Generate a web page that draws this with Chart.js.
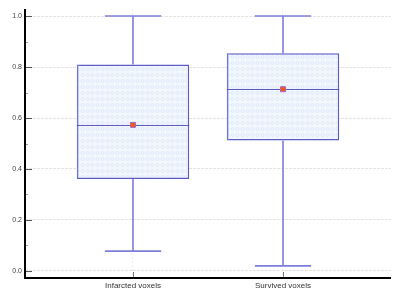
<!DOCTYPE html>
<html>
<head>
<meta charset="utf-8">
<script src="https://cdn.jsdelivr.net/npm/chart.js@4"></script>
<style>
  body { margin: 0; background: #fff; }
  canvas { display: block; }
</style>
</head>
<body>
<canvas id="box-chart" width="400" height="300"></canvas>
<script>
// box plot stats per group
const labels = ['Infarcted voxels', 'Survived voxels'];
const minVals = [0.078, 0.02];
const q1Vals = [0.361, 0.512];
const medianVals = [0.571, 0.712];
const q3Vals = [0.81, 0.854];
const maxVals = [1.0, 1.0];
const meanVals = [0.573, 0.713];
const yTicks = [0, 0.1, 0.2, 0.3, 0.4, 0.5, 0.6, 0.7, 0.8, 0.9, 1.0];

const FONT = "'Liberation Sans', Arial, sans-serif";

// pale blue dotted fill like the original
function makePattern() {
  const p = document.createElement('canvas');
  p.width = 5;
  p.height = 6;
  const c = p.getContext('2d');
  c.fillStyle = '#f2f7fe';
  c.fillRect(0, 0, 5, 6);
  c.strokeStyle = '#d8e5f8';
  c.lineWidth = 0.8;
  c.beginPath();
  c.arc(2.5, 3, 1.5, 0, Math.PI * 2);
  c.stroke();
  return document.getElementById('box-chart').getContext('2d').createPattern(p, 'repeat');
}

const whiskers = {
  id: 'whiskers',
  afterDatasetDraw(chart, args) {
    if (args.index !== 1) return;
    const ctx = chart.ctx;
    const y = chart.scales.y;
    const x = chart.scales.x;
    const meta = chart.getDatasetMeta(1);
    ctx.save();
    meta.data.forEach((bar, i) => {
      const cx = x.getPixelForValue(i + 1);
      const half = bar.width / 2;
      const cap = half / 2;
      // whiskers
      ctx.strokeStyle = '#7d7ddc';
      ctx.lineWidth = 1.6;
      ctx.beginPath();
      ctx.moveTo(cx, y.getPixelForValue(q3Vals[i]));
      ctx.lineTo(cx, y.getPixelForValue(maxVals[i]));
      ctx.moveTo(cx - cap, y.getPixelForValue(maxVals[i]));
      ctx.lineTo(cx + cap, y.getPixelForValue(maxVals[i]));
      ctx.moveTo(cx, y.getPixelForValue(q1Vals[i]));
      ctx.lineTo(cx, y.getPixelForValue(minVals[i]));
      ctx.moveTo(cx - cap, y.getPixelForValue(minVals[i]));
      ctx.lineTo(cx + cap, y.getPixelForValue(minVals[i]));
      ctx.stroke();
      // inner light edge on the left side of the box
      ctx.strokeStyle = '#b8c4ee';
      ctx.lineWidth = 1;
      ctx.beginPath();
      ctx.moveTo(cx - half + 1.5, y.getPixelForValue(q3Vals[i]) + 1);
      ctx.lineTo(cx - half + 1.5, y.getPixelForValue(q1Vals[i]) - 1);
      ctx.stroke();
      // median
      ctx.strokeStyle = '#5a5ac0';
      ctx.lineWidth = 1.2;
      const my = Math.round(y.getPixelForValue(medianVals[i])) + 0.5;
      ctx.beginPath();
      ctx.moveTo(cx - half, my);
      ctx.lineTo(cx + half, my);
      ctx.stroke();
    });
    ctx.restore();
  }
};

// solid axis lines + inward tick marks
const innerTicks = {
  id: 'innerTicks',
  afterDraw(chart) {
    const ctx = chart.ctx;
    const y = chart.scales.y;
    const x = chart.scales.x;
    const area = chart.chartArea;
    ctx.save();
    ctx.lineWidth = 1;
    yTicks.forEach((v, i) => {
      const py = Math.round(y.getPixelForValue(v)) + 0.5;
      ctx.strokeStyle = i % 2 === 0 ? '#555' : '#999';
      ctx.beginPath();
      ctx.moveTo(area.left, py);
      ctx.lineTo(area.left + (i % 2 === 0 ? 7 : 3), py);
      ctx.stroke();
    });
    ctx.strokeStyle = '#777';
    labels.forEach((l, i) => {
      const px = Math.round(x.getPixelForValue(i + 1)) + 0.5;
      ctx.beginPath();
      ctx.moveTo(px, area.bottom);
      ctx.lineTo(px, area.bottom - 6);
      ctx.stroke();
    });
    ctx.strokeStyle = '#000';
    ctx.lineWidth = 2;
    ctx.beginPath();
    ctx.moveTo(area.left, area.top);
    ctx.lineTo(area.left, area.bottom);
    ctx.lineTo(area.right, area.bottom);
    ctx.stroke();
    ctx.restore();
  }
};

new Chart(document.getElementById('box-chart'), {
  data: {
    datasets: [
      {
        type: 'scatter',
        label: 'Mean',
        data: meanVals.map((v, i) => ({ x: i + 1, y: v })),
        pointStyle: 'rect',
        pointRadius: 3.5,
        backgroundColor: '#ff5500',
        borderColor: '#9a6ad0',
        borderWidth: 1
      },
      {
        type: 'bar',
        label: 'Box',
        data: q1Vals.map((v, i) => ({ x: i + 1, y: [v, q3Vals[i]] })),
        backgroundColor: makePattern(),
        borderColor: '#5c5cc8',
        borderWidth: 1.5,
        borderSkipped: false,
        categoryPercentage: 1,
        barPercentage: 0.75
      }
    ]
  },
  options: {
    responsive: false,
    animation: false,
    layout: {
      padding: { top: 9, right: 9, left: 0, bottom: 0 }
    },
    plugins: {
      legend: { display: false },
      tooltip: { enabled: false }
    },
    scales: {
      x: {
        type: 'linear',
        min: 0.28,
        max: 2.72,
        offset: false,
        afterBuildTicks: (scale) => {
          scale.ticks = labels.map((l, i) => ({ value: i + 1 }));
        },
        afterFit: (scale) => { scale.height = 22; },
        ticks: {
          callback: (v) => labels[v - 1],
          color: '#333',
          font: { family: FONT, size: 8 },
          padding: 3,
          maxRotation: 0
        },
        grid: {
          offset: false,
          color: '#eeeeee',
          lineWidth: 1,
          drawTicks: false
        },
        border: { display: false, dash: [2, 2] }
      },
      y: {
        min: -0.0275,
        max: 1.0275,
        afterBuildTicks: (scale) => {
          scale.ticks = yTicks.map(v => ({ value: v }));
        },
        afterFit: (scale) => { scale.width = 25; },
        ticks: {
          callback: (v, i) => (i % 2 === 0 ? v.toFixed(1) : ''),
          color: '#444',
          font: { family: FONT, size: 7 },
          padding: 3
        },
        grid: {
          color: (ctx) => (ctx.index % 2 === 0 ? '#e4e4e4' : 'transparent'),
          lineWidth: 1,
          drawTicks: false
        },
        border: { display: false, dash: [3, 1] }
      }
    }
  },
  plugins: [whiskers, innerTicks]
});
</script>
</body>
</html>
